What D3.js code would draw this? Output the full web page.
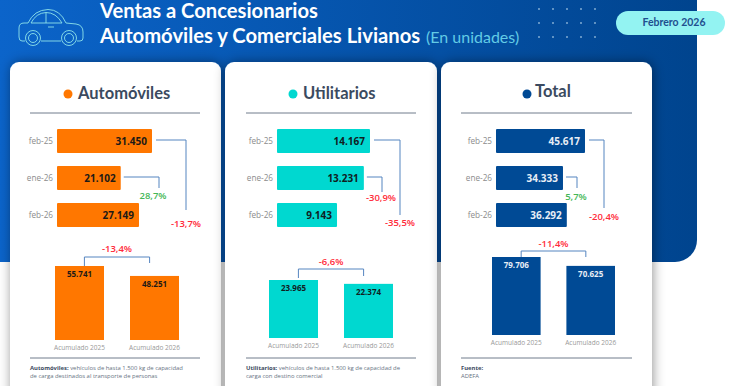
<!DOCTYPE html>
<html>
<head>
<meta charset="utf-8">
<script src="https://cdn.jsdelivr.net/npm/d3@7"></script>
<style>
  html, body { margin: 0; padding: 0; background: #fff; overflow: hidden; }
  text { font-family: "Open Sans", sans-serif; }
  .head { font-family: Lato, sans-serif; }
</style>
</head>
<body>
<div id="chart"></div>
<script>
// values
const months = ["feb-25", "ene-26", "feb-26"]
const acumLabels = ["Acumulado 2025", "Acumulado 2026"]

const autosMonth = [31450, 21102, 27149]
const autosAcum = [55741, 48251]
const autosPct = ["-13,7%", "28,7%", "-13,4%"]

const utilMonth = [14167, 13231, 9143]
const utilAcum = [23965, 22374]
const utilPct = ["-35,5%", "-30,9%", "-6,6%"]

const totalMonth = [45617, 34333, 36292]
const totalAcum = [79706, 70625]
const totalPct = ["-20,4%", "5,7%", "-11,4%"]

const fmt = d3.format(",d")
const label = v => fmt(v).replace(/,/g, ".")

const width = 730
const height = 386
const red = "#ff2b3a"
const green = "#45b757"
const lineCol = "#5585c0"
const darkText = "#3b4a60"

const svg = d3.select("#chart").append("svg")
    .attr("width", width)
    .attr("height", height)
    .style("display", "block")

const defs = svg.append("defs")
const grad = defs.append("linearGradient").attr("id", "bg")
grad.append("stop").attr("offset", "0%").attr("stop-color", "#0b64ca")
grad.append("stop").attr("offset", "100%").attr("stop-color", "#00448e")

const shadow = defs.append("filter").attr("id", "cardShadow")
    .attr("x", "-15%").attr("y", "-15%").attr("width", "130%").attr("height", "130%")
shadow.append("feDropShadow")
    .attr("dx", 1).attr("dy", 0).attr("stdDeviation", 6)
    .attr("flood-color", "#000").attr("flood-opacity", 0.42)

// header background, only the lower right corner is round
svg.append("path")
    .attr("d", "M0 0H697V240A22 22 0 0 1 675 262H0Z")
    .attr("fill", "url(#bg)")

// car icon
const car = svg.append("g")
    .attr("fill", "none")
    .attr("stroke", "#8fe3ea")
    .attr("stroke-width", 0.9)
car.append("path").attr("d", "M25 41H22Q19 41 19 37V28Q19 23 24 23H28Q34 10 48 9.5Q60 9.5 66 23L76 24Q83 25 83 32V38Q83 41 80 41H77M41 41H61")
car.append("path").attr("d", "M31 23Q36 13 46 12.5V23ZM46 12.5Q56 12.5 62 23H46M48 27H54")
car.selectAll("circle")
    .data([[33, 7.5], [33, 4.5], [69, 7.5], [69, 4.5]])
    .join("circle")
    .attr("cx", d => d[0])
    .attr("cy", 38)
    .attr("r", d => d[1])

// titles
svg.append("text").attr("class", "head")
    .attr("x", 100).attr("y", 18)
    .attr("font-size", 20.2).attr("font-weight", 700).attr("fill", "#fff")
    .text("Ventas a Concesionarios")
const t2 = svg.append("text").attr("class", "head")
    .attr("x", 100).attr("y", 43)
    .attr("font-size", 20.2).attr("font-weight", 700).attr("fill", "#fff")
t2.append("tspan").text("Automóviles y Comerciales Livianos")
t2.append("tspan")
    .attr("x", 426)
    .attr("font-size", 16).attr("font-weight", 400).attr("fill", "#62cbe6")
    .text("(En unidades)")

// dots
svg.append("g").selectAll("circle")
    .data(d3.cross([539, 553, 567, 581, 595], [9, 23, 37]))
    .join("circle")
    .attr("cx", d => d[0])
    .attr("cy", d => d[1])
    .attr("r", 0.8)
    .attr("fill", "#d9eefa")

// date pill
svg.append("rect")
    .attr("x", 616).attr("y", 11)
    .attr("width", 109).attr("height", 24)
    .attr("rx", 12)
    .attr("fill", "#93f3f2")
svg.append("text").attr("class", "head")
    .attr("x", 674).attr("y", 26)
    .attr("text-anchor", "middle")
    .attr("font-size", 10.5).attr("font-weight", 700).attr("fill", "#1f4f8f")
    .text("Febrero 2026")

const panels = [
    {
        name: "Automóviles", color: "#ff7700", ink: "#1d1a16",
        month: autosMonth, acum: autosAcum, pct: autosPct, pctCol: [red, green, red],
        card: [10, 211], rule: [30, 200], barX: [57, 152], colX: [55, 179], colY: [340, 266],
        dotX: 68, titleX: 78, titleY: 99,
        longX: 186, longBottom: 210, longLabel: [186, 227],
        shortX: 159, shortBottom: 188, shortLabel: [153, 199],
        brY: 257, brEnds: [266, 263], brLabel: 252,
        note: [["Automóviles:", " vehículos de hasta 1.500 kg de capacidad"], ["", "de carga destinados al transporte de personas"]]
    },
    {
        name: "Utilitarios", color: "#00d8d0", ink: "#10201f",
        month: utilMonth, acum: utilAcum, pct: utilPct, pctCol: [red, red, red],
        card: [225, 212], rule: [246, 416], barX: [277, 370], colX: [269, 393], colY: [338, 280],
        dotX: 293, titleX: 303, titleY: 99,
        longX: 400, longBottom: 215, longLabel: [400, 226],
        shortX: 382, shortBottom: 192, shortLabel: [381, 201],
        brY: 269, brEnds: [278, 276], brLabel: 265,
        note: [["Utilitarios:", " vehículos de hasta 1.500 kg de capacidad de"], ["", "carga con destino comercial"]]
    },
    {
        name: "Total", color: "#004a95", ink: "#e8eef6",
        month: totalMonth, acum: totalAcum, pct: totalPct, pctCol: [red, green, red],
        card: [441, 211], rule: [461, 632], barX: [496, 585], colX: [492, 615], colY: [335, 257],
        dotX: 527, titleX: 535, titleY: 97,
        longX: 604, longBottom: 208, longLabel: [604, 220],
        shortX: 577, shortBottom: 188, shortLabel: [576, 200],
        brY: 251, brEnds: [257, 257], brLabel: 247,
        note: [["Fuente:", ""], ["", "ADEFA"]]
    }
]

panels.forEach(p => {
    const g = svg.append("g")

    g.append("rect")
        .attr("x", p.card[0]).attr("y", 62)
        .attr("width", p.card[1]).attr("height", 360)
        .attr("rx", 9)
        .attr("fill", "#fff")
        .attr("filter", "url(#cardShadow)")

    g.append("circle")
        .attr("cx", p.dotX).attr("cy", 94).attr("r", 4.5)
        .attr("fill", p.color)
    g.append("text").attr("class", "head")
        .attr("x", p.titleX).attr("y", p.titleY)
        .attr("font-size", 16.5).attr("font-weight", 700).attr("fill", darkText)
        .text(p.name)

    g.selectAll("line.rule")
        .data([113, 358])
        .join("line")
        .attr("class", "rule")
        .attr("x1", p.rule[0]).attr("x2", p.rule[1])
        .attr("y1", d => d).attr("y2", d => d)
        .attr("stroke", "#717d8c")
        .attr("stroke-width", 1)

    // monthly bars
    const x = d3.scaleLinear().domain([0, d3.max(p.month)]).range(p.barX)
    const y = d3.scaleBand().domain(months).range([129, 227]).paddingInner(13 / 37)

    g.selectAll("rect.bar")
        .data(p.month)
        .join("rect")
        .attr("class", "bar")
        .attr("x", x(0))
        .attr("y", (d, i) => y(months[i]))
        .attr("width", d => x(d) - x(0))
        .attr("height", y.bandwidth())
        .attr("rx", 1)
        .attr("fill", p.color)

    g.selectAll("text.month")
        .data(months)
        .join("text")
        .attr("class", "month")
        .attr("x", x(0) - 4)
        .attr("y", d => y(d) + y.bandwidth() / 2 + 3)
        .attr("text-anchor", "end")
        .attr("font-size", 8.2)
        .attr("fill", "#8c8c8c")
        .text(d => d)

    g.selectAll("text.val")
        .data(p.month)
        .join("text")
        .attr("class", "val")
        .attr("x", d => x(d) - 5)
        .attr("y", (d, i) => y(months[i]) + y.bandwidth() / 2 + 3.5)
        .attr("text-anchor", "end")
        .attr("font-size", 10)
        .attr("font-weight", 700)
        .attr("fill", p.ink)
        .text(label)

    // accumulated bars
    const cx = d3.scaleBand().domain(acumLabels).range(p.colX).paddingInner(26 / 75)
    const cy = d3.scaleLinear().domain([0, d3.max(p.acum)]).range(p.colY)

    g.selectAll("rect.col")
        .data(p.acum)
        .join("rect")
        .attr("class", "col")
        .attr("x", (d, i) => cx(acumLabels[i]))
        .attr("y", d => cy(d))
        .attr("width", cx.bandwidth())
        .attr("height", d => cy(0) - cy(d))
        .attr("fill", p.color)

    g.selectAll("text.colval")
        .data(p.acum)
        .join("text")
        .attr("class", "colval")
        .attr("x", (d, i) => cx(acumLabels[i]) + cx.bandwidth() / 2)
        .attr("y", d => cy(d) + 11)
        .attr("text-anchor", "middle")
        .attr("font-size", 8)
        .attr("font-weight", 700)
        .attr("fill", p.ink)
        .text(label)

    g.selectAll("text.acum")
        .data(acumLabels)
        .join("text")
        .attr("class", "acum")
        .attr("x", d => cx(d) + cx.bandwidth() / 2)
        .attr("y", cy(0) + 10)
        .attr("text-anchor", "middle")
        .attr("font-size", 6.5)
        .attr("fill", "#999")
        .text(d => d)

    // connectors
    const midY = i => y(months[i]) + y.bandwidth() / 2 - 1
    const conn = d3.line()
    const connectors = [
        [[x(p.month[0]) + 4, midY(0)], [p.longX, midY(0)], [p.longX, p.longBottom]],
        [[x(p.month[1]) + 3, midY(1)], [p.shortX, midY(1)], [p.shortX, p.shortBottom]],
        [[cx(acumLabels[0]) + cx.bandwidth() * 0.6, p.brEnds[0]], [cx(acumLabels[0]) + cx.bandwidth() * 0.6, p.brY],
         [cx(acumLabels[1]) + cx.bandwidth() * 0.4, p.brY], [cx(acumLabels[1]) + cx.bandwidth() * 0.4, p.brEnds[1]]]
    ]
    g.selectAll("path.conn")
        .data(connectors)
        .join("path")
        .attr("class", "conn")
        .attr("d", conn)
        .attr("fill", "none")
        .attr("stroke", lineCol)
        .attr("stroke-width", 1)

    const pctPos = [p.longLabel, p.shortLabel, [(p.colX[0] + p.colX[1]) / 2, p.brLabel]]
    g.selectAll("text.pct")
        .data(p.pct)
        .join("text")
        .attr("class", "pct")
        .attr("x", (d, i) => pctPos[i][0])
        .attr("y", (d, i) => pctPos[i][1])
        .attr("text-anchor", "middle")
        .attr("font-size", 9.5)
        .attr("font-weight", 600)
        .attr("fill", (d, i) => p.pctCol[i])
        .text(d => d)

    // footnote
    const note = g.selectAll("text.note")
        .data(p.note)
        .join("text")
        .attr("class", "note")
        .attr("x", p.rule[0])
        .attr("y", (d, i) => 370 + i * 8)
        .attr("font-size", 5.9)
        .attr("fill", "#66727f")
    note.append("tspan").attr("font-weight", 700).attr("fill", darkText).text(d => d[0])
    note.append("tspan").text(d => d[1])
})
</script>
</body>
</html>
